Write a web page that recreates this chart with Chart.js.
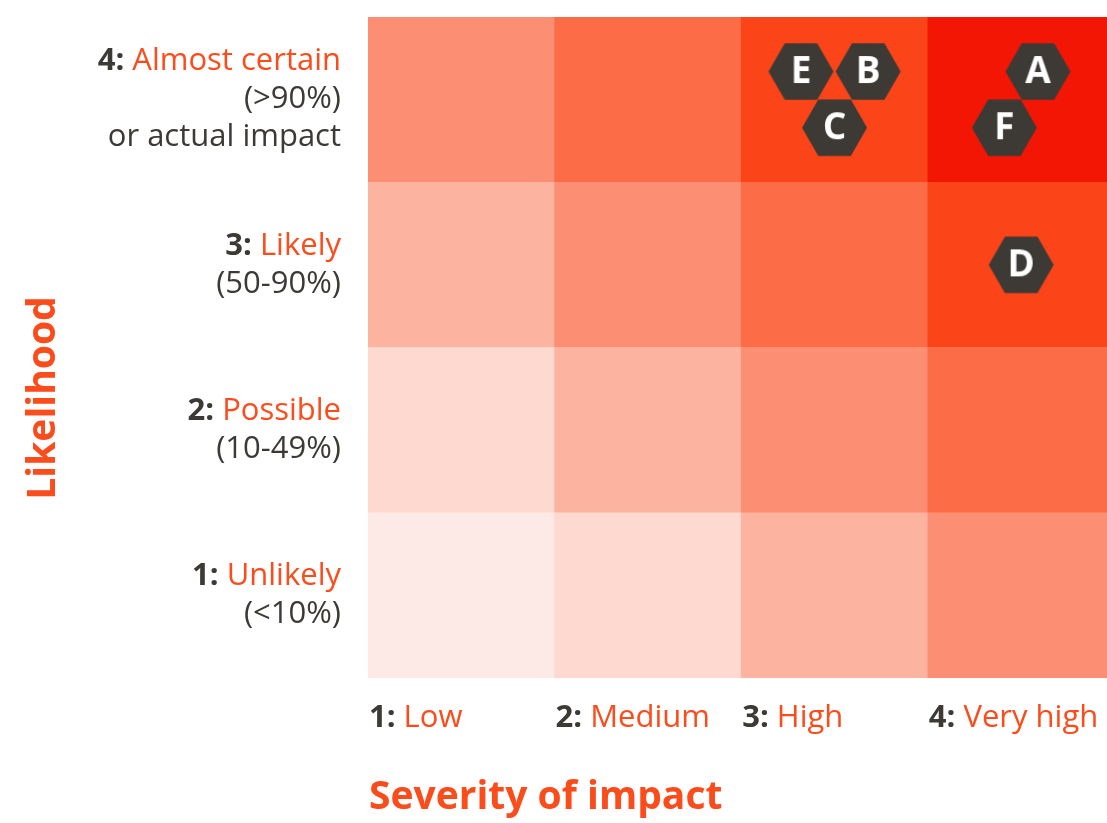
<!DOCTYPE html>
<html>
<head>
<meta charset="utf-8">
<script src="https://cdn.jsdelivr.net/npm/chart.js@4.4.1/dist/chart.umd.min.js"></script>
<style>
  body { margin: 0; background: #fff; }
  #wrap { width: 1107px; height: 823px; position: relative; }
</style>
</head>
<body>
<div id="wrap"><canvas id="riskChart"></canvas></div>
<script>
// Achsen-Beschriftungen
const severityLabels = ['Low', 'Medium', 'High', 'Very high'];
const likelihoodLabels = ['Unlikely', 'Possible', 'Likely', 'Almost certain'];
const likelihoodNotes = [['(<10%)'], ['(10-49%)'], ['(50-90%)'], ['(>90%)', 'or actual impact']];

// Farben nach Risikostufe (Wahrscheinlichkeit + Schwere - 1)
const riskColors = ['#fdeae6', '#fdd9cf', '#fcb4a0', '#fc8f73', '#fc6c46', '#fb4519', '#f41604'];

// Risiken (Sechsecke)
const riskNames = ['A', 'B', 'C', 'D', 'E', 'F'];
const riskSeverity = [4.09, 3.18, 3.0, 4.0, 2.82, 3.91];
const riskLikelihood = [4.17, 4.17, 3.83, 3.0, 4.17, 3.83];

const DARK = '#3d3a36';
const ORANGE = '#fb4c1c';
const FONT = '"Open Sans", Lato, sans-serif';

// Sechseck-Bilder als pointStyle
function hexImage(letter) {
    const r = 32.5;
    const c = document.createElement('canvas');
    c.width = Math.ceil(2 * r) + 2;
    c.height = Math.ceil(Math.sqrt(3) * r) + 2;
    const g = c.getContext('2d');
    const cx = c.width / 2, cy = c.height / 2;
    g.beginPath();
    for (let i = 0; i < 6; i++) {
        const a = i * Math.PI / 3;
        g.lineTo(cx + r * Math.cos(a), cy + r * Math.sin(a));
    }
    g.closePath();
    g.fillStyle = DARK;
    g.fill();
    g.fillStyle = '#fff';
    g.font = 'bold 37px ' + FONT;
    g.textAlign = 'center';
    g.textBaseline = 'middle';
    g.fillText(letter, cx, cy + 1);
    return c;
}
const riskImages = riskNames.map(hexImage);

// Zellen: ein Datensatz pro Wahrscheinlichkeits-Zeile
const cellDatasets = likelihoodLabels.map((l, r) => ({
    type: 'bar',
    order: 1,
    grouped: false,
    data: severityLabels.map((s, c) => ({ x: c + 1, y: [r + 0.5, r + 1.5] })),
    backgroundColor: severityLabels.map((s, c) => riskColors[r + c]),
    borderWidth: 0,
    barPercentage: 1,
    categoryPercentage: 1
}));

const riskDataset = {
    type: 'scatter',
    order: 0,
    data: riskNames.map((n, i) => ({ x: riskSeverity[i], y: riskLikelihood[i] })),
    pointStyle: ctx => riskImages[ctx.dataIndex],
    pointRadius: 33
};

function mixedText(g, parts, x, y, align) {
    const widths = parts.map(p => { g.font = p.font; return g.measureText(p.text).width; });
    const total = widths.reduce((a, b) => a + b, 0);
    let cx = align === 'right' ? x - total : x;
    parts.forEach((p, i) => {
        g.font = p.font;
        g.fillStyle = p.color;
        g.textAlign = 'left';
        g.fillText(p.text, cx, y);
        cx += widths[i];
    });
}

// Beschriftungen zeichnen
const labelPlugin = {
    id: 'labels',
    afterDraw(chart) {
        const g = chart.ctx;
        const xs = chart.scales.x, ys = chart.scales.y;
        g.save();
        g.textBaseline = 'middle';
        const bold = 'bold 31px ' + FONT;
        const reg = '31px ' + FONT;

        // Y-Beschriftungen
        likelihoodLabels.forEach((lab, r) => {
            const lines = 1 + likelihoodNotes[r].length;
            const cy = ys.getPixelForValue(r + 1);
            let y = cy - (lines - 1) * 38 / 2;
            mixedText(g, [
                { text: (r + 1) + ': ', font: bold, color: DARK },
                { text: lab, font: reg, color: ORANGE }
            ], 341, y, 'right');
            likelihoodNotes[r].forEach(n => {
                y += 38;
                mixedText(g, [{ text: n, font: reg, color: DARK }], 341, y, 'right');
            });
        });

        // X-Beschriftungen
        severityLabels.forEach((lab, c) => {
            const x0 = xs.getPixelForValue(c + 0.5);
            mixedText(g, [
                { text: (c + 1) + ': ', font: bold, color: DARK },
                { text: lab, font: reg, color: ORANGE }
            ], x0 + 1, 718, 'left');
        });

        // Achsentitel
        g.fillStyle = ORANGE;
        g.font = 'bold 39px ' + FONT;
        g.textAlign = 'left';
        g.fillText('Severity of impact', xs.left + 1, 798);

        g.translate(44, 398);
        g.rotate(-Math.PI / 2);
        g.textAlign = 'center';
        g.fillText('Likelihood', 0, 0);
        g.restore();
    }
};

const gridLine = { color: 'rgba(245,40,10,0.6)', lineWidth: 1, drawTicks: false, offset: false };

const ctx = document.getElementById('riskChart').getContext('2d');
const myChart = new Chart(ctx, {
    data: { datasets: [riskDataset, ...cellDatasets] },
    options: {
        responsive: true,
        maintainAspectRatio: false,
        animation: false,
        layout: { autoPadding: false, padding: { left: 368, top: 17, right: 0, bottom: 145 } },
        plugins: { legend: { display: false }, tooltip: { enabled: false } },
        scales: {
            x: {
                type: 'linear',
                offset: false,
                min: 0.5,
                max: 4.46,
                afterBuildTicks: s => { s.ticks = [{ value: 3.5 }]; },
                ticks: { display: false },
                border: { display: false },
                grid: gridLine
            },
            y: {
                type: 'linear',
                offset: false,
                min: 0.5,
                max: 4.5,
                afterBuildTicks: s => { s.ticks = [{ value: 3.5 }]; },
                ticks: { display: false },
                border: { display: false },
                grid: gridLine
            }
        }
    },
    plugins: [labelPlugin]
});
</script>
</body>
</html>
